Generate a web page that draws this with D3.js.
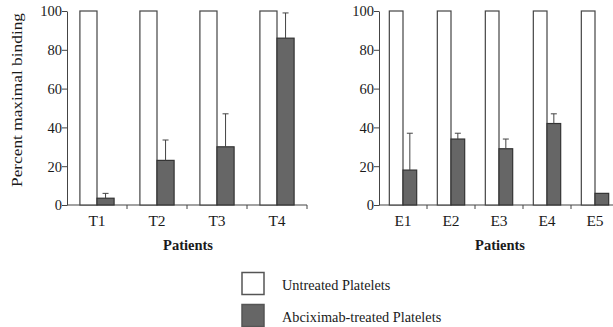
<!DOCTYPE html>
<html>
<head>
<meta charset="utf-8">
<script src="https://cdn.jsdelivr.net/npm/d3@7"></script>
<style>
  body { margin: 0; background: #fff; }
  svg text { font-family: "Liberation Serif", "Times New Roman", serif; fill: #1a1a1a; }
</style>
</head>
<body>
<script>
// dati
const leftPatients = ["T1", "T2", "T3", "T4"];
const leftUntreated = [100, 100, 100, 100];
const leftTreated = [3.5, 23, 30, 86];
const leftErrTop = [6, 33.5, 47, 99];

const rightPatients = ["E1", "E2", "E3", "E4", "E5"];
const rightUntreated = [100, 100, 100, 100, 100];
const rightTreated = [18, 34, 29, 42, 6];
const rightErrTop = [37, 37, 34, 47, null];

const yTicks = [0, 20, 40, 60, 80, 100];
const legendLabels = ["Untreated Platelets", "Abciximab-treated Platelets"];
const legendColors = ["#fff", "#666"];

const W = 613, H = 327;
const svg = d3.select("body").append("svg")
  .attr("width", W)
  .attr("height", H);

const y = d3.scaleLinear().domain([0, 100]).range([205, 11]);

function drawPanel(x0, x1, cats, untreated, treated, errTop, showYLabel) {
  const g = svg.append("g");
  const x = d3.scaleBand().domain(cats).range([x0, x1]);
  const bw = x.bandwidth() * 0.285;

  // asse y
  const yAxis = d3.axisLeft(y).tickValues(yTicks).tickSize(5).tickSizeOuter(0);
  const ya = g.append("g").attr("transform", `translate(${x0},0)`).call(yAxis);
  ya.select(".domain").attr("stroke", "#444");
  ya.selectAll(".tick line").attr("stroke", "#444");
  ya.selectAll(".tick text")
    .style("font-size", "14.5px")
    .attr("x", -5)
    .attr("dy", "0.34em");

  // asse x
  g.append("line")
    .attr("x1", x0).attr("x2", x1)
    .attr("y1", y(0)).attr("y2", y(0))
    .attr("stroke", "#444");
  g.selectAll(".xtick")
    .data(cats)
    .enter()
    .append("line")
    .attr("x1", (d, i) => x0 + x.step() * (i + 1))
    .attr("x2", (d, i) => x0 + x.step() * (i + 1))
    .attr("y1", y(0)).attr("y2", y(0) + 4)
    .attr("stroke", "#444");

  g.selectAll(".xlab")
    .data(cats)
    .enter()
    .append("text")
    .attr("x", d => x(d) + x.bandwidth() / 2)
    .attr("y", 226)
    .attr("text-anchor", "middle")
    .style("font-size", "15.5px")
    .text(d => d);

  // barre non trattate
  g.selectAll(".untreated")
    .data(cats)
    .enter()
    .append("rect")
    .attr("x", d => x(d) + x.bandwidth() / 2 - bw)
    .attr("y", (d, i) => y(untreated[i]))
    .attr("width", bw)
    .attr("height", (d, i) => y(0) - y(untreated[i]))
    .attr("fill", "#fff")
    .attr("stroke", "#444")
    .attr("stroke-width", 1.2);

  // barre trattate
  g.selectAll(".treated")
    .data(cats)
    .enter()
    .append("rect")
    .attr("x", d => x(d) + x.bandwidth() / 2)
    .attr("y", (d, i) => y(treated[i]))
    .attr("width", bw)
    .attr("height", (d, i) => y(0) - y(treated[i]))
    .attr("fill", "#666")
    .attr("stroke", "#333")
    .attr("stroke-width", 1.2);

  // barre di errore
  cats.forEach((d, i) => {
    if (errTop[i] == null) return;
    const cx = x(d) + x.bandwidth() / 2 + bw / 2;
    g.append("line")
      .attr("x1", cx).attr("x2", cx)
      .attr("y1", y(treated[i])).attr("y2", y(errTop[i]))
      .attr("stroke", "#444");
    g.append("line")
      .attr("x1", cx - 3).attr("x2", cx + 3)
      .attr("y1", y(errTop[i])).attr("y2", y(errTop[i]))
      .attr("stroke", "#444");
  });

  g.append("text")
    .attr("x", (x0 + x1) / 2 + 1)
    .attr("y", 250)
    .attr("text-anchor", "middle")
    .style("font-size", "14.5px")
    .style("font-weight", "bold")
    .text("Patients");

  if (showYLabel) {
    g.append("text")
      .attr("transform", `translate(22,100) rotate(-90)`)
      .attr("text-anchor", "middle")
      .style("font-size", "14px")
      .attr("textLength", 174)
      .attr("lengthAdjust", "spacingAndGlyphs")
      .text("Percent maximal binding");
  }
}

drawPanel(67, 307, leftPatients, leftUntreated, leftTreated, leftErrTop, true);
drawPanel(379, 619, rightPatients, rightUntreated, rightTreated, rightErrTop, false);

// legenda
const legend = svg.append("g");
legendLabels.forEach((lab, i) => {
  legend.append("rect")
    .attr("x", 242)
    .attr("y", 272.5 + i * 32)
    .attr("width", 22)
    .attr("height", 22)
    .attr("fill", legendColors[i])
    .attr("stroke", "#555")
    .attr("stroke-width", 1.5);
  legend.append("text")
    .attr("x", 282)
    .attr("y", 290 + i * 31.5)
    .style("font-size", "14.3px")
    .text(lab);
});
</script>
</body>
</html>
